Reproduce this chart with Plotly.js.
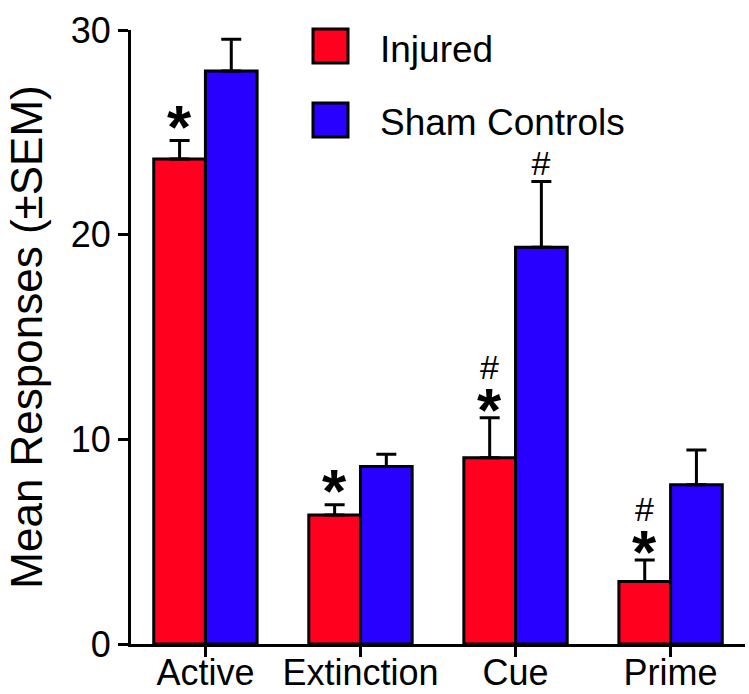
<!DOCTYPE html>
<html>
<head>
<meta charset="utf-8">
<script src="https://cdn.plot.ly/plotly-3.0.1.min.js"></script>
<style>html,body{margin:0;padding:0;background:#fff;}#chart{width:749px;height:694px;}</style>
</head>
<body>
<div id="chart"></div>
<script>
// ---- data ----
const categories = ["Active", "Extinction", "Cue", "Prime"];
const injuredMean = [23.7, 6.3, 9.1, 3.05];
const injuredSEM  = [0.9, 0.5, 1.95, 1.05];
const shamMean    = [28.0, 8.67, 19.38, 7.78];
const shamSEM     = [1.55, 0.6, 3.22, 1.7];
const seriesNames = ["Injured", "Sham Controls"];
// significance markers: "*" vs sham, "#" vs active
const injuredStar = [true, true, true, true];
const injuredHash = [false, false, true, true];
const shamHash    = [false, false, true, false];
const yTicks = [0, 10, 20, 30];

const RED = "#ff001e";
const BLUE = "#2800ff";
const FONT = "Liberation Sans, Arial, Helvetica, sans-serif";

function barTrace(name, means, sems, color) {
  return {
    type: "bar",
    name: name,
    x: categories,
    y: means,
    marker: { color: color, line: { color: "#000", width: 3 } },
    error_y: {
      type: "data", symmetric: false, array: sems,
      arrayminus: sems.map(() => 0),
      color: "#000", thickness: 3, width: 10
    },
    showlegend: false
  };
}

const traces = [
  barTrace(seriesNames[0], injuredMean, injuredSEM, RED),
  barTrace(seriesNames[1], shamMean, shamSEM, BLUE)
];

const off = 1 / 6;
const annotations = [];
const HASH = "<span style='font-size:34px'><i>#</i></span>";
const STAR = "<span style='font-size:62px'><b>*</b></span>";
categories.forEach((c, i) => {
  const topI = injuredMean[i] + injuredSEM[i];
  const topS = shamMean[i] + shamSEM[i];
  if (injuredStar[i] && injuredHash[i]) {
    annotations.push({
      x: i - off, y: topI, xref: "x", yref: "y", text: HASH + "<br>" + STAR, showarrow: false,
      yanchor: "bottom", yshift: -28, font: { family: FONT, size: 40, color: "#000" }
    });
  } else if (injuredStar[i]) {
    annotations.push({
      x: i - off, y: topI, xref: "x", yref: "y", text: "<b>*</b>", showarrow: false,
      yanchor: "middle", yshift: 14, font: { family: FONT, size: 62, color: "#000" }
    });
  }
  if (shamHash[i]) annotations.push({
    x: i + off, y: topS, xref: "x", yref: "y", text: "<i>#</i>", showarrow: false,
    yanchor: "middle", yshift: 18, font: { family: FONT, size: 34, color: "#000" }
  });
});

// manual legend (large swatches)
const L = 131, T = 30, W = 614, H = 614;
const px = v => (v - L) / W;
const py = v => (T + H - v) / H;
const legendColors = [RED, BLUE];
const legendRows = [46, 120];
const shapes = [];
seriesNames.forEach((n, k) => {
  shapes.push({
    type: "rect", xref: "paper", yref: "paper",
    x0: px(313), x1: px(348), y0: py(legendRows[k] - 17), y1: py(legendRows[k] + 17),
    fillcolor: legendColors[k], line: { color: "#000", width: 3 }
  });
  annotations.push({
    xref: "paper", yref: "paper", x: px(378), y: py(legendRows[k] + 3),
    xanchor: "left", yanchor: "middle", text: n, showarrow: false,
    font: { family: FONT, size: 37, color: "#000" }
  });
});

const layout = {
  width: 749, height: 694,
  margin: { l: L, r: 749 - L - W, t: T, b: 694 - T - H },
  paper_bgcolor: "#fff", plot_bgcolor: "#fff",
  barmode: "group", bargap: 1 / 3, bargroupgap: 0,
  font: { family: FONT, color: "#000" },
  xaxis: {
    type: "category", range: [-0.48, 3.48],
    showline: true, linecolor: "#000", linewidth: 3,
    ticks: "outside", ticklen: 10, tickwidth: 3, tickcolor: "#000",
    ticklabelstandoff: -15,
    tickfont: { family: FONT, size: 36, color: "#000" },
    showgrid: false, zeroline: false, fixedrange: true
  },
  yaxis: {
    range: [0, 30], tickvals: yTicks, ticktext: yTicks.map(String),
    showline: true, linecolor: "#000", linewidth: 3,
    ticks: "outside", ticklen: 10, tickwidth: 3, tickcolor: "#000",
    tickfont: { family: FONT, size: 36, color: "#000" },
    showgrid: false, zeroline: false,
    title: { text: "Mean Responses (±SEM)", font: { family: FONT, size: 44, color: "#000" }, standoff: 15 }
  },
  annotations: annotations,
  shapes: shapes,
  showlegend: false
};

Plotly.newPlot("chart", traces, layout, { staticPlot: true, displayModeBar: false });
</script>
</body>
</html>
